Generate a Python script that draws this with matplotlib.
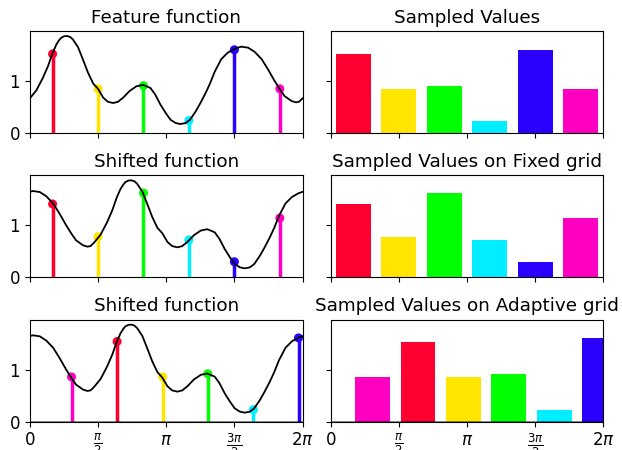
import numpy as np
import matplotlib
matplotlib.use("Agg")
import matplotlib.pyplot as plt

# feature function (x in radians)
feature_x = [0.00, 0.15, 0.30, 0.42, 0.52, 0.61, 0.67, 0.72, 0.79, 0.86, 0.93, 0.99, 1.11,
             1.22, 1.34, 1.46, 1.57, 1.69, 1.80, 1.92, 2.03, 2.15, 2.30,
             2.46, 2.61, 2.78, 2.89, 3.01, 3.13, 3.24, 3.36, 3.47, 3.59,
             3.69, 3.82, 3.93, 4.05, 4.15, 4.26, 4.41, 4.56, 4.72, 4.87,
             5.03, 5.18, 5.34, 5.49, 5.64, 5.76, 5.87, 6.03, 6.13, 6.20,
             6.283]
feature_y = [0.667, 0.82, 1.06, 1.29, 1.53, 1.70, 1.78, 1.83, 1.86, 1.865, 1.845, 1.80, 1.65,
             1.42, 1.16, 0.95, 0.85, 0.68, 0.60, 0.577, 0.60, 0.68, 0.81,
             0.90, 0.925, 0.865, 0.737, 0.544, 0.385, 0.256, 0.192, 0.173, 0.192,
             0.256, 0.415, 0.577, 0.77, 0.95, 1.18, 1.42, 1.545, 1.62, 1.66,
             1.64, 1.56, 1.42, 1.22, 1.00, 0.84, 0.71, 0.615, 0.59, 0.60,
             0.667]
shift = 1.48

fixed_grid = [np.pi / 6, np.pi / 2, 5 * np.pi / 6, 7 * np.pi / 6, 3 * np.pi / 2, 11 * np.pi / 6]
fixed_colors = ["#ff0030", "#ffe500", "#00ff00", "#00eeff", "#2b00ff", "#ff00c1"]
feature_samples = [1.52, 0.85, 0.91, 0.24, 1.60, 0.85]
shifted_fixed_samples = [1.41, 0.78, 1.62, 0.72, 0.30, 1.14]

adaptive_grid = [0.96, 2.01, 3.06, 4.10, 5.15, 6.19]
adaptive_colors = ["#ff00c1", "#ff0030", "#ffe500", "#00ff00", "#00eeff", "#2b00ff"]
adaptive_samples = [0.86, 1.54, 0.86, 0.92, 0.23, 1.61]

xtick_vals = [0, np.pi / 2, np.pi, 3 * np.pi / 2, 2 * np.pi]
xtick_labels = ["0", r"$\frac{\pi}{2}$", r"$\pi$", r"$\frac{3\pi}{2}$", r"$2\pi$"]

plt.rcParams["font.size"] = 12

fx = np.array(feature_x)
fy = np.array(feature_y)
shifted_x = np.concatenate([fx + shift - 2 * np.pi, fx + shift])
shifted_y = np.concatenate([fy, fy])

fig, axes = plt.subplots(3, 2, figsize=(6.22, 4.5), dpi=100, sharex=True, sharey=True)

rows = [
    ("Feature function", fx, fy, fixed_grid, feature_samples, fixed_colors, "Sampled Values"),
    ("Shifted function", shifted_x, shifted_y, fixed_grid, shifted_fixed_samples, fixed_colors,
     "Sampled Values on Fixed grid"),
    ("Shifted function", shifted_x, shifted_y, adaptive_grid, adaptive_samples, adaptive_colors,
     "Sampled Values on Adaptive grid"),
]

for i, (ltitle, cx, cy, grid, vals, cols, rtitle) in enumerate(rows):
    ax = axes[i, 0]
    ax.vlines(grid, 0, vals, colors=cols, lw=2.5)
    ax.scatter(grid, vals, c=cols, s=30, zorder=3)
    ax.plot(cx, cy, color="black", lw=1.3, zorder=4)
    ax.set_title(ltitle, fontsize=13.2)

    bx = axes[i, 1]
    bx.bar(grid, vals, width=0.8, color=cols)
    bx.set_title(rtitle, fontsize=13.2)

    if i == 2:
        ax.axhline(0, color="k", alpha=0.5, lw=2)
        bx.axhline(0, color="k", alpha=0.5, lw=2)

axes[0, 0].set_xlim(0, 2 * np.pi)
axes[0, 0].set_ylim(0, 1.96)
axes[0, 0].set_xticks(xtick_vals)
axes[0, 0].set_xticklabels(xtick_labels)
axes[0, 0].set_yticks([0, 1])

plt.subplots_adjust(left=0.048, right=0.970, bottom=0.063, top=0.931, wspace=0.103, hspace=0.415)
plt.savefig("out.png")
